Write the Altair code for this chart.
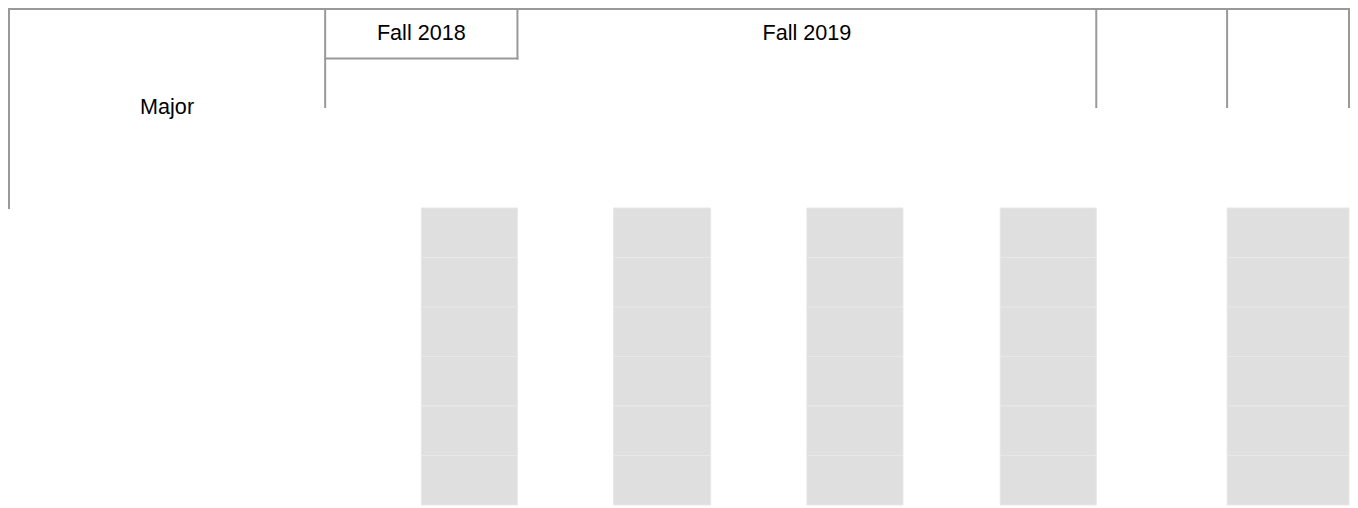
import altair as alt
import pandas as pd

# ---------------- data ----------------
# top header cells: label and the span of leaf columns they cover (0 = Major column)
header_labels = ["Major", "Fall 2018", "Fall 2019", "", ""]
header_start = [0, 1, 3, 9, 10]
header_end = [1, 3, 9, 10, 11]
# six body rows (major names are blank in the source)
row_labels = ["", "", "", "", "", ""]
# leaf columns whose body cells are shaded grey
shaded_columns = [2, 4, 6, 8, 10]

# ---------------- layout ----------------
col_widths = [319, 97, 97, 97, 98, 97, 97, 98, 97, 132, 123]
left, top = 4, 4
header_row_heights = [50, 49, 102]
body_row_height = 50

col_edges = [left]
for w in col_widths:
    col_edges.append(col_edges[-1] + w)
hdr_edges = [top]
for h in header_row_heights:
    hdr_edges.append(hdr_edges[-1] + h)
body_top = hdr_edges[-1]
body_edges = [body_top + i * body_row_height for i in range(len(row_labels) + 1)]

# grey body cells
cells = []
for c in shaded_columns:
    for r in range(len(row_labels)):
        cells.append(dict(x=col_edges[c], x2=col_edges[c + 1],
                          y=body_edges[r], y2=body_edges[r + 1]))
cells = pd.DataFrame(cells)

# header lines
segs = []
segs.append(dict(x=col_edges[0], x2=col_edges[-1], y=top, y2=top))           # top border
segs.append(dict(x=col_edges[0], x2=col_edges[0], y=top, y2=body_top))       # Major left border
for s in [header_start[1], header_start[3], header_start[4], header_end[4]]:
    segs.append(dict(x=col_edges[s], x2=col_edges[s], y=top, y2=hdr_edges[2]))
# Fall 2018 box
segs.append(dict(x=col_edges[header_start[1]], x2=col_edges[header_end[1]],
                 y=hdr_edges[1], y2=hdr_edges[1]))
segs.append(dict(x=col_edges[header_end[1]], x2=col_edges[header_end[1]],
                 y=top, y2=hdr_edges[1]))
segs = pd.DataFrame(segs)

# header texts
texts = []
for lab, s, e in zip(header_labels, header_start, header_end):
    if not lab:
        continue
    ymid = (top + body_top) / 2 if s == 0 else (hdr_edges[0] + hdr_edges[1]) / 2
    texts.append(dict(x=(col_edges[s] + col_edges[e]) / 2, y=ymid, label=lab))
texts = pd.DataFrame(texts)

xs = alt.Scale(domain=[3, 1357], nice=False, zero=False)
ys = alt.Scale(domain=[3, 506], nice=False, zero=False, reverse=True)

rects = alt.Chart(cells).mark_rect(fill="#dfdfdf", stroke="#e8e8e8", strokeWidth=1).encode(
    x=alt.X("x:Q", scale=xs, axis=None),
    x2="x2:Q",
    y=alt.Y("y:Q", scale=ys, axis=None),
    y2="y2:Q",
)

rules = alt.Chart(segs).mark_rule(color="#999999", strokeWidth=2, strokeCap="square").encode(
    x=alt.X("x:Q", scale=xs, axis=None),
    x2="x2:Q",
    y=alt.Y("y:Q", scale=ys, axis=None),
    y2="y2:Q",
)

labels = alt.Chart(texts).mark_text(
    font="Liberation Sans", fontSize=21.6, color="#000000", align="center", baseline="middle"
).encode(
    x=alt.X("x:Q", scale=xs, axis=None),
    y=alt.Y("y:Q", scale=ys, axis=None),
    text="label:N",
)

chart = alt.layer(rects, rules, labels).properties(
    width=1342, height=498, padding=0, autosize=alt.AutoSizeParams(type="none")
).configure_view(stroke=None)

chart.save("out.html", embed_options={"renderer": "svg", "actions": False})
